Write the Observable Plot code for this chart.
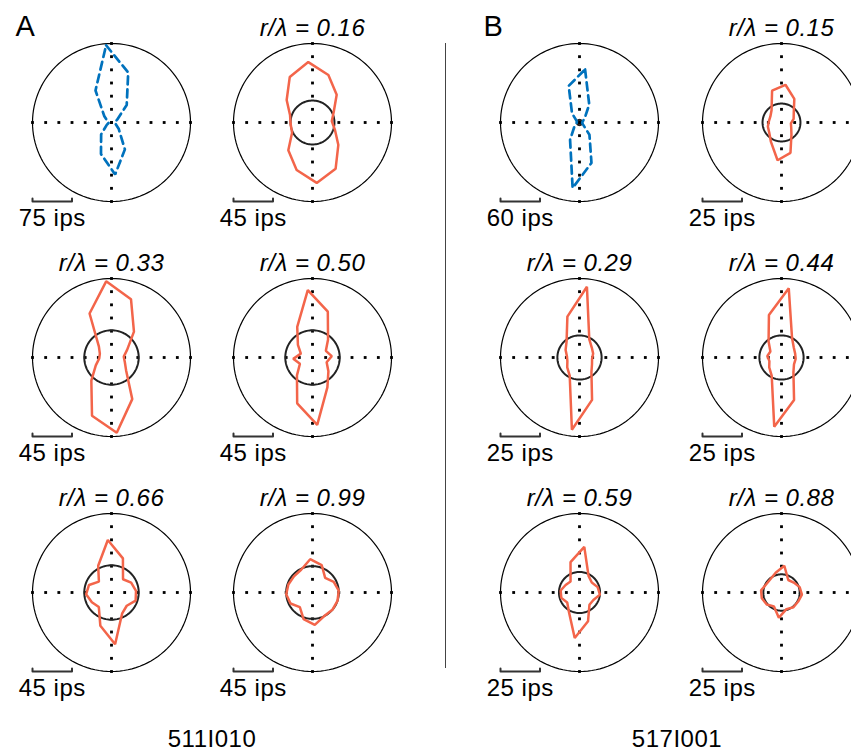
<!DOCTYPE html>
<html><head><meta charset="utf-8">
<script src="https://cdn.jsdelivr.net/npm/d3@7"></script>
<script src="https://cdn.jsdelivr.net/npm/@observablehq/plot@0.6"></script>
<style>
body{margin:0;background:#fff;}
#wrap{position:relative;width:851px;height:752px;overflow:hidden;font-family:"Liberation Sans",Arial,Helvetica,sans-serif;}
#wrap svg{position:absolute;max-width:none;}
.lbl{position:absolute;font-size:24px;line-height:24px;white-space:nowrap;letter-spacing:0.5px;color:#000;}
.divider{position:absolute;width:1px;background:#444;}
</style></head><body><div id="wrap"></div>
<script>
// Stimulus directions (deg, clockwise from up)
const directions = [0,22.5,45,67.5,90,112.5,135,157.5,180,202.5,225,247.5,270,292.5,315,337.5];

// Panel A (cell 511I010)
const cellA = "511I010";
const ratioA = [null, "0.16", "0.33", "0.50", "0.66", "0.99"];
const scaleA = [75, 45, 45, 45, 45, 45];          // scale bar, ips
const spontA = [null, 25, 31, 31, 31, 30];        // inner circle, ips
const A1 = [147,100,44,12,6,8,18,57,99,63,30,10,5,8,18,68];
const A2 = [69,57,42,27,22,27,39,59,69,57,42,26,25,27,39,58];
const A3 = [87,70,39,20,14,16,22,53,86,70,35,20,14,14,19,56];
const A4 = [77,55,27,17,22,17,24,38,77,55,27,16,22,14,22,39];
const A5 = [60,41,20,25,28,29,23,27,59,40,22,25,29,27,19,34];
const A6 = [38,33,22,27,30,30,30,30,37,32,22,28,30,29,28,29];

// Panel B (cell 517I001)
const cellB = "517I001";
const ratioB = [null, "0.15", "0.29", "0.44", "0.59", "0.88"];
const scaleB = [60, 25, 25, 25, 25, 25];
const spontB = [4, 12, 14, 14, 13, 11.5];
const B1 = [81,31,10,5,4,6,24,64,100,30,10,5,4,5,18,58];
const B2 = [24,17,10,8,6,7,10,20,24,14,10,9,8,8,10,21];
const B3 = [45,13,10,9,8,9,12,28,46,13,10,8,8,10,13,27];
const B4 = [44,14,10,9,9,9,12,28,44,13,10,8,9,8,13,28];
const B5 = [29,12,10,12,13,10,10,19,29,14,10,12,12,10,9,20];
const B6 = [17,9,10,12,13,12,12,11,16,10,12,13,13,11,11,13];

// layout
const colX = [111, 312, 579, 781];
const rowY = [122, 357, 592];
const rad = 79, mTop = 40, mBot = 36, W = 200;
const orange = "#f3654a", blue = "#0072bd";
const font = '"Liberation Sans", Arial, Helvetica, sans-serif';

const wrap = document.getElementById("wrap");

function ring(r) {
  return d3.range(0, 361, 3).map(t => ({x: r*Math.sin(t*Math.PI/180), y: r*Math.cos(t*Math.PI/180)}));
}

function subplot({rates, scale, spont, ratio, letter, dashed, rot, cx, cy}) {
  const R = 2*scale;
  const pts = directions.map((d, i) => {
    const a = (d + rot)*Math.PI/180;
    return {x: rates[i]*Math.sin(a), y: rates[i]*Math.cos(a)};
  });
  const steps = d3.range(-6, 7).map(k => k*R/6);
  const axisDots = [...steps.map(v => ({x: v, y: 0})), ...steps.map(v => ({x: 0, y: v}))];
  const tk = R*3/rad;
  const bar = [{x: -R, y: -R+tk}, {x: -R, y: -R}, {x: -R+scale, y: -R}, {x: -R+scale, y: -R+tk}];
  const marks = [
    Plot.line(ring(R), {x: "x", y: "y", stroke: "#000", strokeWidth: 1.2}),
    Plot.dot(axisDots, {x: "x", y: "y", symbol: "square", r: 1.6, fill: "#000"}),
  ];
  if (spont) marks.push(Plot.line(ring(spont), {x: "x", y: "y", stroke: "#222", strokeWidth: 2}));
  marks.push(Plot.line(pts, {x: "x", y: "y", curve: "linear-closed", stroke: dashed ? blue : orange,
    strokeWidth: dashed ? 2.7 : 2.5, strokeDasharray: dashed ? "8,5" : null, strokeLinejoin: "miter"}));
  marks.push(Plot.line(bar, {x: "x", y: "y", stroke: "#333", strokeWidth: 2}));
  marks.push(Plot.text([`${scale} ips`], {x: -R + scale/2, y: -R, dy: 24, text: d => d, lineAnchor: "bottom", fontSize: 24}));
  if (ratio) marks.push(Plot.text([`r/λ = ${ratio}`], {frameAnchor: "top", dy: -8, text: d => d, lineAnchor: "bottom", fontSize: 24, fontStyle: "italic"}));
  if (letter) marks.push(Plot.text([letter], {frameAnchor: "top-left", dx: -17, dy: -8, text: d => d, textAnchor: "start", lineAnchor: "bottom", fontSize: 29}));
  const svg = Plot.plot({
    width: W, height: mTop + 2*rad + mBot,
    marginTop: mTop, marginBottom: mBot, marginLeft: (W - 2*rad)/2, marginRight: (W - 2*rad)/2,
    x: {domain: [-R, R], axis: null},
    y: {domain: [-R, R], axis: null},
    style: {background: "transparent", overflow: "visible", fontFamily: font, fontSize: "24px", letterSpacing: "0.5px", color: "#000"},
    marks
  });
  svg.style.left = (cx - W/2) + "px";
  svg.style.top = (cy - rad - mTop) + "px";
  wrap.appendChild(svg);
}

const panels = [
  {series: [A1, A2, A3, A4, A5, A6], ratio: ratioA, scale: scaleA, spont: spontA, letter: "A", cols: [0, 1], rot: -4},
  {series: [B1, B2, B3, B4, B5, B6], ratio: ratioB, scale: scaleB, spont: spontB, letter: "B", cols: [2, 3], rot: 6},
];
for (const p of panels) {
  p.series.forEach((rates, i) => {
    const row = Math.floor(i/2), col = p.cols[i % 2];
    subplot({rates, scale: p.scale[i], spont: p.spont[i], ratio: p.ratio[i], letter: i === 0 ? p.letter : null,
      dashed: i === 0, rot: p.rot, cx: colX[col], cy: rowY[row]});
  });
}

// divider and cell labels
const div = document.createElement("div");
div.className = "divider";
div.style.left = "445px"; div.style.top = "43px"; div.style.height = "625px";
wrap.appendChild(div);
for (const [txt, x] of [[cellA, 212], [cellB, 677]]) {
  const d = document.createElement("div");
  d.className = "lbl";
  d.textContent = txt;
  d.style.left = x + "px";
  d.style.top = (747 - 20.3) + "px";
  d.style.transform = "translateX(-50%)";
  wrap.appendChild(d);
}
</script></body></html>
